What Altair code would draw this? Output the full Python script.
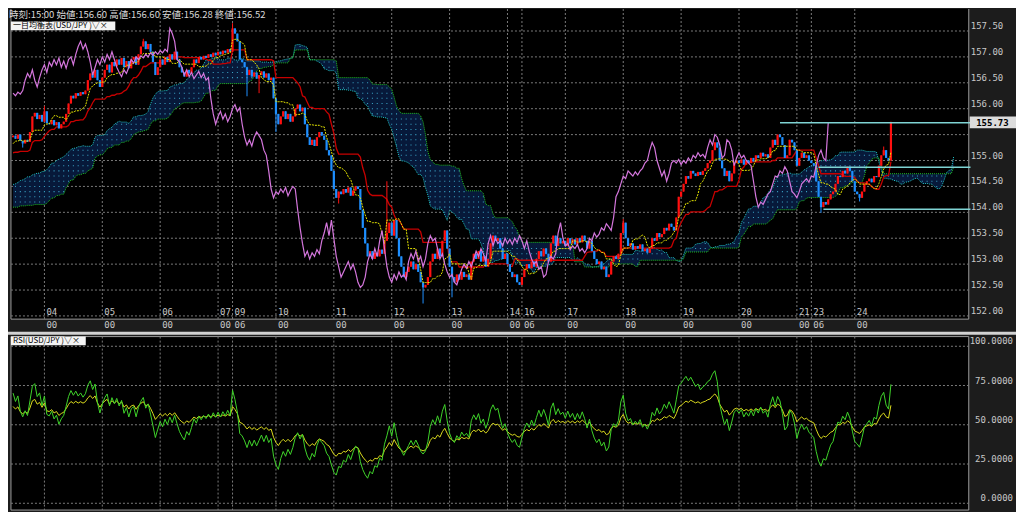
import altair as alt
import pandas as pd
import numpy as np

# ---------------- data ----------------
first_index = -90  # bar index of first warm-up bar (hourly bars, 0 = "04 00:00")
prior_close = [
    153.90, 153.80, 153.85, 153.70, 153.60, 153.65, 153.55, 153.50, 153.60, 153.45, 153.50,
    153.40, 153.55, 153.50, 153.45, 153.38, 153.45, 153.60, 153.55, 153.40, 153.35,
    153.50, 153.65, 153.80, 153.75, 153.90, 154.00, 153.95, 154.05, 154.00, 154.10,
    154.20, 154.15, 154.30, 154.25, 154.35, 154.30, 154.45, 154.40, 154.50, 154.45,
    154.55, 154.60, 154.55, 154.70, 154.65, 154.75, 154.70, 154.80, 154.75, 154.85,
    154.80, 154.85, 154.82, 154.90, 154.85, 154.88, 154.92, 154.86, 154.90, 154.95,
    154.90, 154.85, 154.92, 154.88, 155.00, 155.10, 155.20, 155.15, 155.30, 155.25,
    155.35, 155.30, 155.45, 155.40, 155.50, 155.45,
]
close = [
    155.48, 155.42, 155.50, 155.38, 155.33, 155.40, 155.36, 155.55, 155.85, 155.92, 155.80, 155.88, 155.75,
    155.95, 155.72, 155.70, 155.78, 155.68, 155.74, 155.62, 155.70, 155.75, 155.90,
    156.10, 156.25, 156.20, 156.30, 156.25, 156.32, 156.28, 156.35, 156.55, 156.68,
    156.60, 156.75, 156.55, 156.42, 156.60, 156.75, 156.85, 156.70, 156.90, 156.82,
    156.95, 156.85, 156.98, 156.80, 156.92, 156.78, 156.95, 157.00, 156.85, 157.05,
    157.20, 157.30, 157.15, 157.25, 157.10, 156.90, 156.65, 156.80, 156.95, 156.85,
    157.00, 156.90, 157.05, 156.95, 157.10, 156.95, 156.80, 156.70, 156.62, 156.75,
    156.68, 156.80, 156.95, 156.88, 157.00, 156.95, 157.02, 156.98, 157.05, 157.00,
    157.08, 157.03, 157.10, 157.05, 157.12, 157.08, 157.15, 157.10, 157.55, 157.45,
    157.30, 156.95, 156.90, 156.80, 156.65, 156.75, 156.62, 156.70, 156.58, 156.65,
    156.72, 156.60, 156.68, 156.55, 156.60, 156.20, 155.90, 155.70, 155.85, 155.95,
    155.80, 155.90, 155.75, 155.85, 156.00, 156.08, 155.95, 156.02, 155.70, 155.45,
    155.30, 155.40, 155.28, 155.45, 155.55, 155.48, 155.40, 155.20, 155.10, 154.80,
    154.45, 154.28, 154.40, 154.35, 154.45, 154.38, 154.48, 154.32, 154.42, 154.50,
    154.45, 154.05, 153.70, 153.40, 153.15, 153.25, 153.10, 153.22, 153.15, 153.28,
    153.20, 153.45, 153.60, 153.80, 153.55, 153.85, 153.50, 153.15, 152.95, 152.75,
    152.85, 152.95, 153.05, 152.90, 153.00, 152.85, 152.65, 152.55, 152.60, 152.75,
    153.05, 153.20, 153.10, 153.30, 153.15, 153.45, 153.65, 153.30, 152.95, 152.75,
    152.65, 152.80, 152.70, 152.85, 152.75, 152.80, 152.70, 153.05, 153.20, 153.10,
    153.25, 153.05, 153.15, 152.95, 153.10, 153.40, 153.55, 153.45, 153.50, 153.30,
    153.10, 153.20, 153.00, 152.85, 152.75, 152.80, 152.65, 152.60, 152.75, 152.90,
    153.00, 152.92, 153.05, 152.95, 153.10, 153.25, 153.15, 153.30, 153.20, 153.05,
    153.40, 153.55, 153.35, 153.50, 153.40, 153.45, 153.35, 153.50, 153.40, 153.48,
    153.38, 153.50, 153.42, 153.55, 153.45, 153.30, 153.45, 153.25, 153.10, 153.00,
    153.05, 152.90, 152.95, 152.75, 152.80, 153.05, 153.15, 153.10, 153.20, 153.60,
    153.80, 153.50, 153.35, 153.40, 153.28, 153.35, 153.30, 153.38, 153.25, 153.30,
    153.22, 153.30, 153.50, 153.45, 153.60, 153.52, 153.58, 153.70, 153.65, 153.78,
    153.72, 153.65, 153.90, 154.30, 154.40, 154.55, 154.70, 154.65, 154.80, 154.75,
    154.70, 154.78, 154.72, 154.80, 154.85, 154.95, 155.00, 155.20, 155.35, 155.25,
    155.00, 154.85, 154.70, 154.80, 154.60, 154.75, 154.95, 155.00, 154.95, 155.02,
    154.92, 155.00, 154.95, 155.05, 154.98, 155.10, 155.05, 155.15, 155.08, 155.12,
    155.05, 155.25, 155.40, 155.30, 155.50, 155.45, 155.30, 155.05, 155.10, 155.40,
    155.35, 155.20, 154.90, 155.05, 155.15, 155.05, 155.10, 155.00, 154.95, 154.90,
    154.60, 154.30, 154.10, 154.20, 154.15, 154.25, 154.35, 154.40, 154.55, 154.70,
    154.68, 154.80, 154.75, 154.88, 154.80, 154.60, 154.40, 154.35, 154.28, 154.40,
    154.55, 154.60, 154.65, 154.58, 154.70, 154.68, 154.90, 155.10, 155.20, 155.05,
    155.00, 155.73,
]
visible_start = -13
wick_high = {0: 156.05, 41: 157.35, 78: 157.65, 142: 154.60, 240: 153.87, 348: 155.27, 351: 155.75}
wick_low = {-9: 155.25, 84: 156.24, 89: 156.30, 96: 155.55, 122: 154.17, 157: 152.24, 169: 152.36,
            322: 153.99, 338: 154.21}

day_index = [0, 24, 48, 72, 78, 96, 120, 144, 168, 192, 198, 216, 240, 264, 288, 312, 318, 336]
day_labels = ["04", "05", "06", "07", "09", "10", "11", "12", "13", "14", "16", "17", "18", "19",
              "20", "21", "23", "24"]
hour_labels = ["00", "00", "00", "00", "06", "00", "00", "00", "00", "00", "06", "00", "00", "00",
               "00", "00", "06", "00"]
price_ticks = [157.5, 157.0, 156.5, 156.0, 155.5, 155.0, 154.5, 154.0, 153.5, 153.0, 152.5, 152.0]
price_labels_shown = ["157.50", "157.00", "156.50", "156.00", "", "155.00", "154.50", "154.00",
                      "153.50", "153.00", "152.50", "152.00"]
rsi_ticks = [100, 75, 50, 25, 0]
rsi_labels = ["100.0000", "75.0000", "50.0000", "25.0000", "0.0000"]
level_prices = [155.73, 154.87, 154.06]
level_start = [305, 321, 323]
level_end = 384
last_price = 155.73
header_text = "時刻:15:00 始値:156.60 高値:156.60 安値:156.28 終値:156.52"
main_title = "一目均衡表(USD/JPY )▽×"
rsi_title = "RSI(USD/JPY )▽×"

# ---------------- geometry ----------------
W, H = 1008, 503
SX, SY = W / 1024, H / 519
def X(p): return p * SX
def Y(p): return p * SY
BAR = 2.45
X0 = 37

xs = alt.Scale(domain=[0, 336], range=[X(X0), X(X0 + 336 * BAR)], zero=False, nice=False)
ps = alt.Scale(domain=[152.0, 157.5], range=[Y(316.7), Y(22.7)], zero=False, nice=False)
rs = alt.Scale(domain=[0, 100], range=[Y(510), Y(348)], zero=False, nice=False)

# ---------------- derived series ----------------
allc = np.array(prior_close + close, dtype=float)
idx = np.arange(first_index, first_index + len(allc))
op = np.r_[allc[0], allc[:-1]]
hi = np.maximum(op, allc)
lo = np.minimum(op, allc)
for k, v in wick_high.items():
    hi[k - first_index] = max(hi[k - first_index], v)
for k, v in wick_low.items():
    lo[k - first_index] = min(lo[k - first_index], v)
s = pd.DataFrame({"i": idx, "o": op, "c": allc, "h": hi, "l": lo})
tenkan = (s.h.rolling(9).max() + s.l.rolling(9).min()) / 2
kijun = (s.h.rolling(26).max() + s.l.rolling(26).min()) / 2
spanA = (tenkan + kijun) / 2
spanB = (s.h.rolling(52).max() + s.l.rolling(52).min()) / 2
s["tenkan"] = tenkan
s["kijun"] = kijun
s["col"] = np.where(s.c >= s.o, "#ff1010", "#1e8fff")

def rsi(series, n):
    d = series.diff()
    g = d.clip(lower=0).ewm(alpha=1 / n, adjust=False).mean()
    l = (-d.clip(upper=0)).ewm(alpha=1 / n, adjust=False).mean()
    return 100 - 100 / (1 + g / l)
s["rsi_fast"] = rsi(s.c, 11)
s["rsi_slow"] = rsi(s.c, 30)

vis = s[s.i >= visible_start].copy()
cloud = pd.DataFrame({"i": idx + 26, "A": spanA, "B": spanB}).dropna()
cloud = cloud[cloud.i >= visible_start]
chik = pd.DataFrame({"i": idx - 26, "v": allc})
chik = chik[chik.i >= visible_start]

# dot texture inside the cloud
dots = []
for _, r in cloud.iterrows():
    if int(r.i) % 2 != 0:
        continue
    lo_, hi_ = min(r.A, r.B), max(r.A, r.B)
    p = 152.0
    while p < 157.6:
        if lo_ + 0.03 < p < hi_ - 0.03:
            dots.append({"i": r.i, "p": p})
        p = round(p + 0.1, 2)
dots = pd.DataFrame(dots)

one = pd.DataFrame({"k": [0]})
def rect(x1, x2, y1, y2, color):
    return alt.Chart(one).mark_rect(color=color).encode(
        x=alt.value(X(x1)), x2=alt.value(X(x2)), y=alt.value(Y(y1)), y2=alt.value(Y(y2)))
def hline(x1, x2, y, color, w=1):
    return alt.Chart(one).mark_rule(color=color, strokeWidth=w).encode(
        x=alt.value(X(x1)), x2=alt.value(X(x2)), y=alt.value(Y(y)))
def vline(x, y1, y2, color, w=1):
    return alt.Chart(one).mark_rule(color=color, strokeWidth=w).encode(
        x=alt.value(X(x)), y=alt.value(Y(y1)), y2=alt.value(Y(y2)))

MONO = "DejaVu Sans Mono"
JP = "Noto Sans CJK JP"
GRID = "#7a7a7a"
BORDER = "#9a9a9a"

layers = []
# panels
layers += [rect(3, 976, 0, 320, "#000000"), rect(0, 1024, 333, 336, "#d2d2d2"),
           rect(3, 976, 338, 517, "#000000")]
layers += [hline(3, 976, 320, BORDER), vline(3, 0, 320, BORDER), vline(976, 0, 320, BORDER),
           hline(3, 976, 338, BORDER), hline(3, 976, 517, BORDER), vline(3, 338, 517, BORDER),
           vline(976, 338, 517, BORDER)]

days = pd.DataFrame({"i": day_index, "d": day_labels, "h": hour_labels})
pt = pd.DataFrame({"p": price_ticks, "t": price_labels_shown})
rt = pd.DataFrame({"r": rsi_ticks, "t": rsi_labels})

# gridlines
layers.append(alt.Chart(pt).mark_rule(color=GRID, strokeDash=[2, 2], strokeWidth=1).encode(
    y=alt.Y("p:Q", scale=ps, axis=None), x=alt.value(X(3)), x2=alt.value(X(976))))
layers.append(alt.Chart(days).mark_rule(color=GRID, strokeDash=[2, 2], strokeWidth=1).encode(
    x=alt.X("i:Q", scale=xs, axis=None), y=alt.value(0), y2=alt.value(Y(320))))
layers.append(alt.Chart(days).mark_rule(color=GRID, strokeDash=[2, 2], strokeWidth=1).encode(
    x=alt.X("i:Q", scale=xs, axis=None), y=alt.value(Y(338)), y2=alt.value(Y(517))))
layers.append(alt.Chart(rt).mark_rule(color=GRID, strokeDash=[2, 2], strokeWidth=1).encode(
    y=alt.Y("r:Q", scale=rs, axis=None), x=alt.value(X(3)), x2=alt.value(X(976))))

# cloud
layers.append(alt.Chart(cloud).mark_area(color="#07193a", opacity=1).encode(
    x=alt.X("i:Q", scale=xs, axis=None), y=alt.Y("A:Q", scale=ps, axis=None), y2="B:Q"))
layers.append(alt.Chart(dots).mark_square(color="#3aa2c4", size=1.1, opacity=1).encode(
    x=alt.X("i:Q", scale=xs, axis=None), y=alt.Y("p:Q", scale=ps, axis=None)))
layers.append(alt.Chart(cloud).mark_line(color="#22c4c4", strokeWidth=1, strokeDash=[1, 1]).encode(
    x=alt.X("i:Q", scale=xs, axis=None), y=alt.Y("A:Q", scale=ps, axis=None)))
layers.append(alt.Chart(cloud).mark_line(color="#20c020", strokeWidth=1, strokeDash=[1, 1]).encode(
    x=alt.X("i:Q", scale=xs, axis=None), y=alt.Y("B:Q", scale=ps, axis=None)))

# kijun
layers.append(alt.Chart(vis).mark_line(color="#c80000", strokeWidth=1.3).encode(
    x=alt.X("i:Q", scale=xs, axis=None), y=alt.Y("kijun:Q", scale=ps, axis=None)))
# candles
layers.append(alt.Chart(vis).mark_rule(strokeWidth=1).encode(
    x=alt.X("i:Q", scale=xs, axis=None), y=alt.Y("l:Q", scale=ps, axis=None), y2="h:Q",
    color=alt.Color("col:N", scale=None)))
layers.append(alt.Chart(vis).mark_rule(strokeWidth=2.2).encode(
    x=alt.X("i:Q", scale=xs, axis=None), y=alt.Y("o:Q", scale=ps, axis=None), y2="c:Q",
    color=alt.Color("col:N", scale=None)))
# tenkan
layers.append(alt.Chart(vis).mark_line(color="#e6e600", strokeWidth=1, strokeDash=[2, 1]).encode(
    x=alt.X("i:Q", scale=xs, axis=None), y=alt.Y("tenkan:Q", scale=ps, axis=None)))
# chikou
layers.append(alt.Chart(chik).mark_line(color="#d476dc", strokeWidth=1.2).encode(
    x=alt.X("i:Q", scale=xs, axis=None), y=alt.Y("v:Q", scale=ps, axis=None)))
# horizontal levels
lv = pd.DataFrame({"p": level_prices, "a": level_start, "b": [level_end] * len(level_prices)})
layers.append(alt.Chart(lv).mark_rule(color="#7fd4d4", strokeWidth=1.5).encode(
    x=alt.X("a:Q", scale=xs, axis=None), x2="b:Q", y=alt.Y("p:Q", scale=ps, axis=None)))

# RSI lines
layers.append(alt.Chart(vis).mark_line(color="#dada1e", strokeWidth=1).encode(
    x=alt.X("i:Q", scale=xs, axis=None), y=alt.Y("rsi_slow:Q", scale=rs, axis=None)))
layers.append(alt.Chart(vis).mark_line(color="#3fd22a", strokeWidth=1).encode(
    x=alt.X("i:Q", scale=xs, axis=None), y=alt.Y("rsi_fast:Q", scale=rs, axis=None)))

# texts
layers.append(alt.Chart(pt).mark_text(font=MONO, fontSize=9, color="#c8c8c8", align="left",
                                      baseline="middle", dy=-5).encode(
    y=alt.Y("p:Q", scale=ps, axis=None), x=alt.value(X(978)), text="t:N"))
layers.append(alt.Chart(rt).mark_text(font=MONO, fontSize=9, color="#c8c8c8", align="right",
                                      baseline="middle", dy=-5).encode(
    y=alt.Y("r:Q", scale=rs, axis=None), x=alt.value(X(1021)), text="t:N"))
layers.append(alt.Chart(days).mark_text(font=MONO, fontSize=9, color="#c8c8c8", align="left",
                                        baseline="middle", dx=2).encode(
    x=alt.X("i:Q", scale=xs, axis=None), y=alt.value(Y(313)), text="d:N"))
layers.append(alt.Chart(days).mark_text(font=MONO, fontSize=9, color="#c8c8c8", align="left",
                                        baseline="middle", dx=2).encode(
    x=alt.X("i:Q", scale=xs, axis=None), y=alt.value(Y(326.5)), text="h:N"))
# price tag
lp = pd.DataFrame({"p": [last_price], "t": [f"{last_price:.2f}"]})
layers.append(rect(977, 1024, 111, 123, "#dcdcdc"))
layers.append(alt.Chart(lp).mark_text(font=MONO, fontSize=9, fontWeight="bold", color="#000000",
                                      align="center", baseline="middle").encode(
    y=alt.Y("p:Q", scale=ps, axis=None), x=alt.value(X(1000)), text="t:N"))
# header + titles
layers.append(alt.Chart(one).mark_text(text=header_text, font=JP, fontSize=9.5, color="#d8d8d8",
                                       align="left", baseline="top").encode(
    x=alt.value(X(1)), y=alt.value(1)))
layers.append(rect(3, 109, 13, 22, "#f4f4f4"))
layers.append(alt.Chart(one).mark_text(text=main_title, font=JP, fontSize=8, color="#000000",
                                       align="left", baseline="middle").encode(
    x=alt.value(X(5)), y=alt.value(Y(17.5))))
layers.append(rect(3, 79, 338, 347, "#f4f4f4"))
layers.append(alt.Chart(one).mark_text(text=rsi_title, font=JP, fontSize=8, color="#000000",
                                       align="left", baseline="middle").encode(
    x=alt.value(X(5)), y=alt.value(Y(342.5))))

chart = alt.layer(*layers).resolve_scale(y="independent").properties(
    width=W, height=H, background="#1c1c1c", padding=0
).configure_view(stroke=None)

chart.save("out.html", embed_options={"renderer": "svg", "actions": False})
